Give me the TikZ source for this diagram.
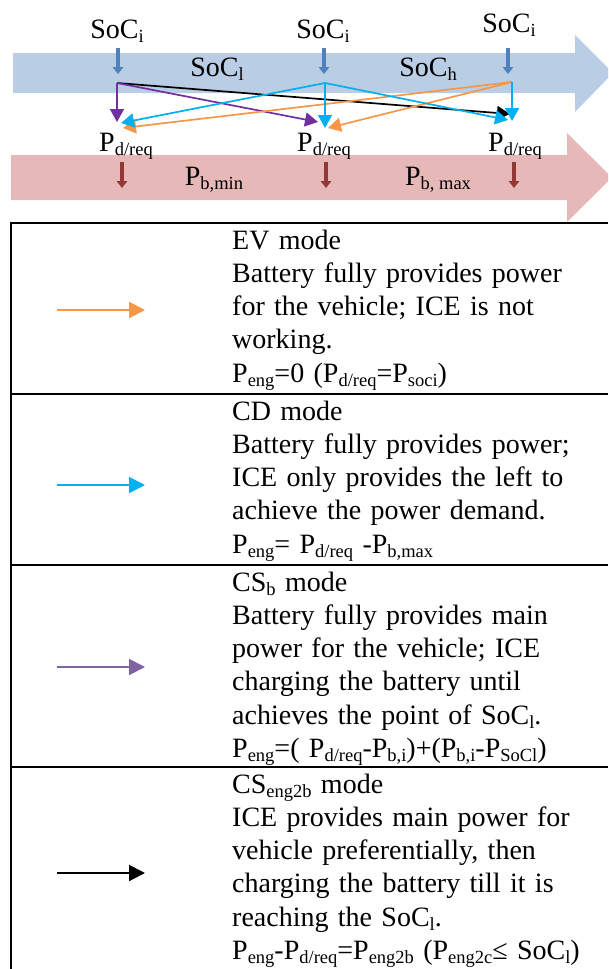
\documentclass[tikz,border=0pt]{standalone}
\usepackage{fontspec}
\setmainfont{Liberation Serif}
\usepackage{tikz}
\usetikzlibrary{arrows.meta}
\newcommand{\lowsub}[1]{\raisebox{-4pt}{\fontsize{18.5}{18.5}\selectfont #1}}
\definecolor{socband}{HTML}{B9CDE5}
\definecolor{soctick}{HTML}{4F81BD}
\definecolor{powband}{HTML}{E6B9B8}
\definecolor{powtick}{HTML}{953735}
\definecolor{evorange}{HTML}{F79646}
\definecolor{cdblue}{HTML}{00B0F0}
\definecolor{csbpurple}{HTML}{7030A0}
\definecolor{keypurple}{HTML}{8064A2}
\tikzset{
  mode-font/.style={font=\fontsize{28}{33.2}\selectfont},
  axis-label/.style={mode-font, inner sep=0pt, anchor=base},
  mode-text/.style={mode-font, inner sep=0pt, anchor=north west, text width=380pt, align=left,
    execute at begin node={\rule{0pt}{26pt}}},
  band-tick/.style={-{Triangle[length=7pt,width=10.5pt]}, line width=3.2pt},
  mode-flow/.style={-{Triangle[length=13pt,width=14pt]}, line width=1.7pt},
  legend-arrow/.style={-{Triangle[length=16pt,width=16pt]}, line width=2pt},
  table-rule/.style={line width=2pt, black}
}

\begin{document}
\begin{tikzpicture}[x=1pt, y=-1pt]
  \useasboundingbox (0,0) rectangle (608,969);
  \clip (0,0) rectangle (608,969);

  % SoC band
  \fill[socband] (13,53) -- (575,53) -- (575,35) -- (613,73) -- (575,112) -- (575,93) -- (13,93) -- cycle;

  % Power band
  \fill[powband] (11,155) -- (567,155) -- (567,133) -- (612,177.5) -- (567,222) -- (567,200) -- (11,200) -- cycle;

  % SoC labels
  \foreach \name/\x/\y in {socA/117/38, socB/323/38, socC/509/32} {
    \node[axis-label] (\name) at (\x,\y) {SoC\lowsub{i}};
  }
  \node[axis-label] (socl) at (217,76) {SoC\lowsub{l}};
  \node[axis-label] (soch) at (428,76) {SoC\lowsub{h}};

  % Power labels
  \foreach \name/\x in {pdA/126, pdB/324, pdC/515} {
    \node[axis-label] (\name) at (\x,151) {P\lowsub{d/req}};
  }
  \node[axis-label] (pbmin) at (214,185) {P\lowsub{b,min}};
  \node[axis-label] (pbmax) at (438,185) {P\lowsub{b, max}};

  % Band ticks
  \foreach \name/\x in {sa/118, sb/324, sc/508} {
    \coordinate (\name-top) at (\x,48);
    \coordinate (\name-tip) at (\x,74);
    \draw[band-tick, soctick] (\name-top) -- (\name-tip);
  }
  \foreach \name/\x in {pa/122, pb/326, pc/514} {
    \coordinate (\name-top) at (\x,162);
    \coordinate (\name-tip) at (\x,188);
    \draw[band-tick, powtick] (\name-top) -- (\name-tip);
  }

  % Mode transitions
  \coordinate (srcA) at (117,83);
  \coordinate (srcB) at (325,83);
  \coordinate (srcC) at (512,82);
  \coordinate (dstA-csb) at (117,122);
  \coordinate (dstA-cd) at (121,123);
  \coordinate (dstA-ev) at (123,128);
  \coordinate (dstB-csb) at (318,122);
  \coordinate (dstB-cd) at (325,128);
  \coordinate (dstB-ev) at (328,128);
  \coordinate (dstC-cs) at (510,114);
  \coordinate (dstC-cd) at (508,120);
  \coordinate (dstC-cdd) at (512,121);
  \draw[mode-flow, black] (srcA) -- (dstC-cs);
  \draw[mode-flow, csbpurple] (srcA) -- (dstA-csb);
  \draw[mode-flow, csbpurple] (srcA) -- (dstB-csb);
  \draw[mode-flow, evorange] (srcC) -- (dstA-ev);
  \draw[mode-flow, evorange] (srcC) -- (dstB-ev);
  \draw[mode-flow, cdblue] (srcB) -- (dstA-cd);
  \draw[mode-flow, cdblue] (srcB) -- (dstB-cd);
  \draw[mode-flow, cdblue] (srcB) -- (dstC-cd);
  \draw[mode-flow, cdblue] (srcC) -- (dstC-cdd);

  % Mode table
  \draw[table-rule] (608,223) -- (11,223) -- (11,975);
  \foreach \y in {394, 565, 767} {
    \draw[table-rule] (11,\y) -- (608,\y);
  }

  % Legend arrows
  \foreach \name/\y/\col in {evkey/310/evorange, cdkey/485/cdblue, csbkey/667/keypurple, cskey/873/black} {
    \coordinate (\name-from) at (57,\y);
    \coordinate (\name-to) at (145,\y);
    \draw[legend-arrow, \col] (\name-from) -- (\name-to);
  }

  % Mode descriptions
  \node[mode-text] (evtext) at (232,223) {EV mode\\
    Battery fully provides power\\
    for the vehicle; ICE is not\\
    working.\\
    P\lowsub{eng}=0 (P\lowsub{d/req}=P\lowsub{soci})};
  \node[mode-text] (cdtext) at (232,394) {CD mode\\
    Battery fully provides power;\\
    ICE only provides the left to\\
    achieve the power demand.\\
    P\lowsub{eng}= P\lowsub{d/req} -P\lowsub{b,max}};
  \node[mode-text] (csbtext) at (232,565) {CS\lowsub{b} mode\\
    Battery fully provides main\\
    power for the vehicle; ICE\\
    charging the battery until\\
    achieves the point of SoC\lowsub{l}.\\
    P\lowsub{eng}=( P\lowsub{d/req}-P\lowsub{b,i})+(P\lowsub{b,i}-P\lowsub{SoCl})};
  \node[mode-text] (cstext) at (232,767) {CS\lowsub{eng2b} mode\\
    ICE provides main power for\\
    vehicle preferentially, then\\
    charging the battery till it is\\
    reaching the SoC\lowsub{l}.\\
    P\lowsub{eng}-P\lowsub{d/req}=P\lowsub{eng2b} (P\lowsub{eng2c}≤ SoC\lowsub{l})};
\end{tikzpicture}
\end{document}
